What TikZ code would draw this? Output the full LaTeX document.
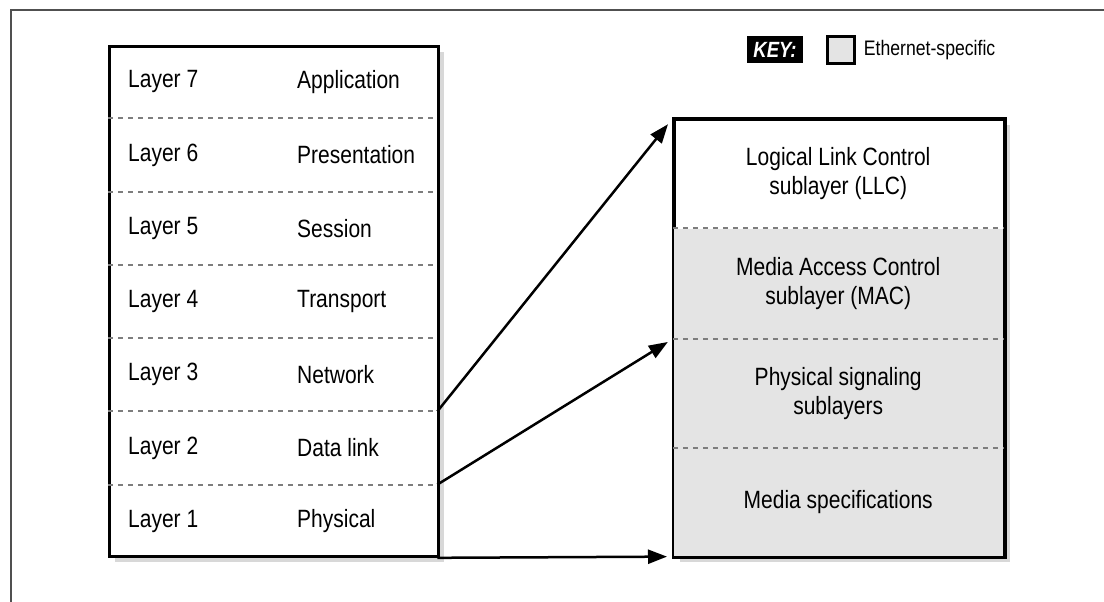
\documentclass[tikz,border=0pt]{standalone}
\usepackage{fontspec}
\setmainfont{Liberation Sans}[FakeStretch=0.84]
\usetikzlibrary{positioning, arrows.meta, shadows, calc}
\definecolor{ethergray}{RGB}{228,228,228}
\definecolor{dashgray}{RGB}{125,125,125}
\definecolor{framegray}{RGB}{80,80,80}
\tikzset{
    stackbox/.style={
        draw, line width=2.7pt, fill=white, inner sep=0pt,
        drop shadow={shadow xshift=6pt, shadow yshift=-6pt, fill=black!30}
    },
    osirow/.style={
        inner sep=0pt, minimum width=329pt, minimum height=72.86pt
    },
    subrow/.style={
        inner sep=0pt, minimum width=330pt, align=center,
        font=\fontsize{25}{29}\selectfont
    },
    layertext/.style={
        inner sep=0pt, font=\fontsize{25}{29}\selectfont
    },
    divider/.style={
        dashgray, line width=2pt, dash pattern=on 5pt off 5pt
    },
    link/.style={
        -{Triangle[length=19pt,width=14pt]}, line width=2.5pt
    }
}

\begin{document}
\begin{tikzpicture}[x=1pt, y=-1pt]
    \useasboundingbox (0,0) rectangle (1104,602);

    % frame of the figure
    \draw[framegray, line width=2pt] (11,602) -- (11,10) -- (1104,10);

    % ======================================
    % OSI STACK (LEFT)
    % ======================================
    \node[stackbox, minimum width=329pt, minimum height=510pt, anchor=north west] (osi) at (108,45) {};
    \node[osirow, anchor=north west] (l7) at (osi.north west) {};
    \node[osirow, below=0pt of l7] (l6) {};
    \node[osirow, below=0pt of l6] (l5) {};
    \node[osirow, below=0pt of l5] (l4) {};
    \node[osirow, below=0pt of l4] (l3) {};
    \node[osirow, below=0pt of l3] (l2) {};
    \node[osirow, below=0pt of l2] (l1) {};

    \foreach \r in {l7,l6,l5,l4,l3,l2}
        \draw[divider] (\r.south west) -- (\r.south east);

    \foreach \r/\n/\t in {l7/7/Application, l6/6/Presentation, l5/5/Session,
                          l4/4/Transport, l3/3/Network, l2/2/Data link, l1/1/Physical} {
        \node[layertext, right=20pt of \r.west] (num\n) {Layer \n};
        \node[layertext, right=189pt of \r.west] (name\n) {\t};
    }

    % ======================================
    % ETHERNET SUBLAYERS (RIGHT)
    % ======================================
    \node[stackbox, minimum width=330pt, minimum height=437pt, anchor=north west] (sub) at (673,118) {};
    \node[subrow, minimum height=110pt, anchor=north west] (llc) at (sub.north west)
        {Logical Link Control\\sublayer (LLC)};
    \node[subrow, minimum height=110pt, fill=ethergray, below=0pt of llc] (mac)
        {Media Access Control\\sublayer (MAC)};
    \node[subrow, minimum height=109pt, fill=ethergray, below=0pt of mac] (phy)
        {Physical signaling\\sublayers};
    \node[subrow, minimum height=108pt, fill=ethergray, below=0pt of phy] (med)
        {Media specifications};
    \draw[line width=2.7pt] (sub.north west) rectangle (sub.south east);

    \foreach \r in {llc,mac,phy}
        \draw[divider] (\r.south west) -- (\r.south east);

    % arrows from the data link layer
    \draw[link, shorten >=8pt] (l3.south east) -- (llc.north west);
    \draw[link, shorten >=6pt] (l2.south east) -- (mac.south west);
    \draw[link, shorten >=6pt] (l1.south east) -- (med.south west);

    % ======================================
    % KEY
    % ======================================
    \node[fill=black, text=white, minimum width=56pt, minimum height=27pt, inner sep=0pt,
          font=\fontsize{22}{24}\selectfont\bfseries\itshape] (key) at (775,50) {KEY:};
    \node[draw, line width=2.5pt, fill=ethergray, minimum size=27pt, inner sep=0pt,
          right=23pt of key.east, anchor=west] (keybox) {};
    \node[layertext, font=\fontsize{21}{24}\selectfont, right=8pt of keybox] (keytext) {Ethernet-specific};
\end{tikzpicture}
\end{document}
